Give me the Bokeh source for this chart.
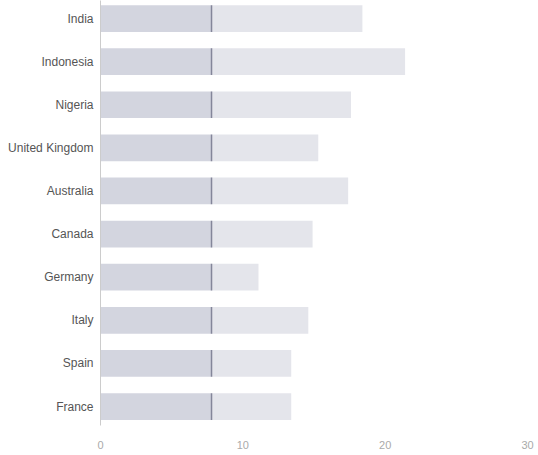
from bokeh.plotting import figure
from bokeh.models import Range1d, FixedTicker
from bokeh.embed import file_html
from bokeh.resources import INLINE

countries = ["India", "Indonesia", "Nigeria", "United Kingdom", "Australia",
             "Canada", "Germany", "Italy", "Spain", "France"]
first_part = [7.8, 7.8, 7.8, 7.8, 7.8, 7.8, 7.8, 7.8, 7.8, 7.8]
totals = [18.4, 21.4, 17.6, 15.3, 17.4, 14.9, 11.1, 14.6, 13.4, 13.4]
x_ticks = [0, 10, 20, 30]

ypos = list(range(len(countries)))

p = figure(width=536, height=455, output_backend="svg", toolbar_location=None,
           x_range=Range1d(0, 30), y_range=Range1d(9.44, -0.418),
           min_border_left=100, min_border_right=9, min_border_top=0,
           min_border_bottom=30)

p.hbar(y=ypos, left=0, right=first_part, height=0.62,
       fill_color="#d3d5df", line_color=None)
p.hbar(y=ypos, left=first_part, right=totals, height=0.62,
       fill_color="#e4e5eb", line_color=None)
p.segment(x0=first_part, x1=first_part,
          y0=[y - 0.31 for y in ypos], y1=[y + 0.31 for y in ypos],
          line_color="#84869a", line_width=1.5)

p.xgrid.visible = False
p.ygrid.visible = False
p.outline_line_color = None

p.xaxis.ticker = FixedTicker(ticks=x_ticks)
p.xaxis.axis_line_color = None
p.xaxis.major_tick_line_color = None
p.xaxis.minor_tick_line_color = None
p.xaxis.major_tick_out = 0
p.xaxis.major_label_standoff = 15
p.xaxis.major_label_text_color = "#aaaaaa"
p.xaxis.major_label_text_font = "Liberation Sans"
p.xaxis.major_label_text_font_size = "11px"

p.yaxis.ticker = FixedTicker(ticks=ypos)
p.yaxis.major_label_overrides = {i: c for i, c in enumerate(countries)}
p.yaxis.axis_line_color = "#cccccc"
p.yaxis.major_tick_line_color = None
p.yaxis.minor_tick_line_color = None
p.yaxis.major_tick_out = 0
p.yaxis.major_label_standoff = 7
p.yaxis.major_label_text_color = "#555555"
p.yaxis.major_label_text_font = "Liberation Sans"
p.yaxis.major_label_text_font_size = "12px"

open("out.html", "w").write(file_html(p, INLINE))
